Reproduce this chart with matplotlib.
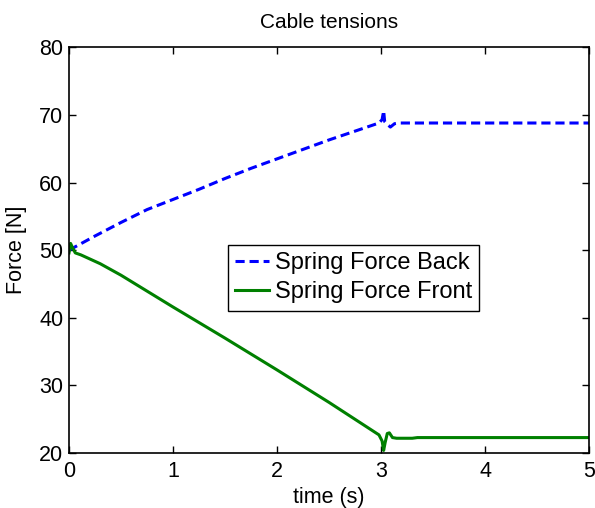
import matplotlib
matplotlib.use('Agg')
import matplotlib.pyplot as plt

plt.rcParams['font.family'] = ['Liberation Sans', 'DejaVu Sans']

# values
back_t = [0.0, 0.25, 0.5, 0.75, 1.0, 1.25, 1.5, 1.75, 2.0, 2.25, 2.5, 2.75, 2.98,
          3.01, 3.025, 3.035, 3.06, 3.09, 3.13, 3.17, 3.5, 4.0, 4.5, 5.0]
back_f = [50.0, 52.1, 54.1, 56.0, 57.5, 59.0, 60.6, 62.1, 63.5, 64.9, 66.3, 67.6, 68.8,
          69.3, 70.6, 69.0, 68.6, 68.2, 68.7, 68.8, 68.8, 68.8, 68.8, 68.8]

front_t = [0.0, 0.015, 0.03, 0.06, 0.115, 0.3, 0.5, 1.0, 1.5, 2.0, 2.5, 2.98,
           3.01, 3.025, 3.04, 3.06, 3.08, 3.11, 3.15, 3.3, 3.35, 4.0, 5.0]
front_f = [49.6, 51.0, 50.5, 49.6, 49.3, 48.0, 46.3, 41.6, 37.0, 32.3, 27.5, 22.7,
           21.8, 20.4, 21.6, 22.9, 23.0, 22.3, 22.2, 22.2, 22.3, 22.3, 22.3]

fig = plt.figure(figsize=(5.95, 5.08), dpi=100)
ax = fig.add_axes([0.116, 0.108, 0.874, 0.799])

ax.plot(back_t, back_f, color='#0000ff', lw=2.2, linestyle='--', dashes=(3, 1.6),
        label='Spring Force Back')
ax.plot(front_t, front_f, color='#008000', lw=2.2, label='Spring Force Front')

ax.set_xlim(0, 5)
ax.set_ylim(20, 80)
ax.set_xticks([0, 1, 2, 3, 4, 5])
ax.set_yticks([20, 30, 40, 50, 60, 70, 80])
ax.tick_params(direction='in', length=5, width=1, top=True, right=True,
               labelsize=15.5)
ax.tick_params(axis='x', pad=6)
ax.tick_params(axis='y', pad=4)
for s in ax.spines.values():
    s.set_linewidth(1.2)

ax.set_xlabel('time (s)', fontsize=15.5, labelpad=3)
ax.set_ylabel('Force [N]', fontsize=15.5, labelpad=9)
ax.set_title('Cable tensions', fontsize=15, pad=14)

leg = ax.legend(loc='upper left', bbox_to_anchor=(0.306, 0.512), fontsize=17,
                fancybox=False, framealpha=1, edgecolor='black',
                handlelength=1.45, handletextpad=0.22, borderpad=0.3,
                labelspacing=0.3, borderaxespad=0)
leg.get_frame().set_linewidth(1.0)

plt.savefig('out.png', dpi=100)
